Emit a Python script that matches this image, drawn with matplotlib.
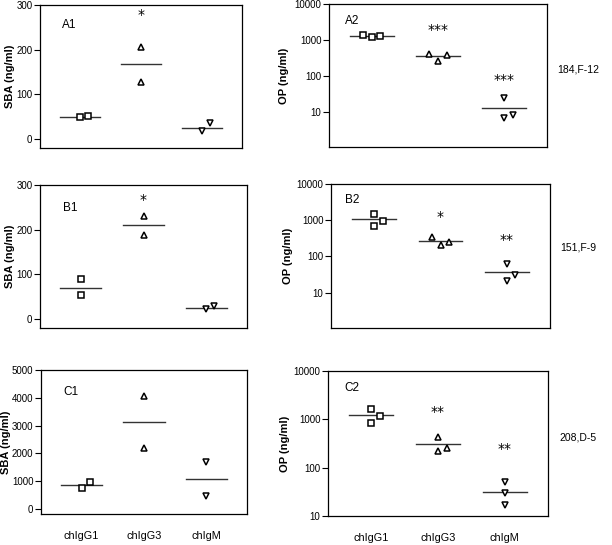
import matplotlib
matplotlib.use("Agg")
import matplotlib.pyplot as plt
from matplotlib.ticker import FixedLocator, FixedFormatter, NullLocator

W, H = 612, 545
categories = ["chIgG1", "chIgG3", "chIgM"]
markers = ["s", "^", "v"]

# ---- data ----
# A1 (SBA, linear)
a1_vals = [[49, 51], [207, 127], [17, 35]]
a1_means = [50, 168, 25]
a1_stars = ["", "*", ""]
a1_star_y = [0, 277, 0]
# A2 (OP, log)
a2_vals = [[1400, 1210, 1320], [417, 261, 372], [23.5, 6.9, 8.4]]
a2_means = [1280, 351, 12.7]
a2_stars = ["", "***", "***"]
a2_star_y = [0, 1860, 78]
# B1
b1_vals = [[90, 53], [231, 188], [22, 29]]
b1_means = [70, 210, 25]
b1_stars = ["", "*", ""]
b1_star_y = [0, 266, 0]
# B2
b2_vals = [[1500, 680, 930], [340, 210, 250], [61, 21.5, 31]]
b2_means = [1050, 265, 36]
b2_stars = ["", "*", "**"]
b2_star_y = [0, 1230, 290]
# C1
c1_vals = [[766, 982], [4065, 2205], [1690, 468]]
c1_means = [863, 3140, 1070]
c1_stars = ["", "", ""]
c1_star_y = [0, 0, 0]
# C2
c2_vals = [[1660, 850, 1175], [435, 219, 252], [50.6, 30.4, 17.2]]
c2_means = [1210, 303, 31.8]
c2_stars = ["", "**", "**"]
c2_star_y = [0, 1410, 245]

side_labels = ["184,F-12", "151,F-9", "208,D-5"]

# x offsets of points (positions, not data)
off_a1 = [[0.0, 0.13], [0.0, 0.0], [0.0, 0.13]]
off_a2 = [[-0.13, 0.0, 0.12], [-0.13, 0.0, 0.13], [0.0, 0.0, 0.13]]
off_b1 = [[0.0, 0.0], [0.0, 0.0], [0.0, 0.13]]
off_b2 = [[0.0, 0.0, 0.13], [-0.13, 0.0, 0.13], [0.0, 0.0, 0.13]]
off_c1 = [[0.0, 0.13], [0.0, 0.0], [0.0, 0.0]]
off_c2 = [[0.0, 0.0, 0.13], [0.0, 0.0, 0.13], [0.0, 0.0, 0.0]]

fig = plt.figure(figsize=(W / 100, H / 100), dpi=100)
plt.rcParams['font.family'] = ['Liberation Sans', 'DejaVu Sans']


def box(l, r, t, b):
    return [l / W, (H - b) / H, (r - l) / W, (b - t) / H]


def panel(rect, vals, means, offs, stars, stars_y, label, label_xy, log,
          ylim, yticks, ylabel, ylabel_x, show_x=False):
    ax = fig.add_axes(box(*rect))
    for i, (v, m, o) in enumerate(zip(vals, means, offs)):
        x = i + 1
        ax.plot([x + oo for oo in o], v, linestyle="none", marker=markers[i],
                markersize=3.8, markerfacecolor="white", markeredgecolor="black",
                markeredgewidth=1.1, zorder=3)
        ax.plot([x - 0.33, x + 0.33], [m, m], color="#333333", lw=1.0, zorder=2)
        if stars[i]:
            ax.text(x, stars_y[i], stars[i], ha="center", va="center",
                    fontsize=10, family="DejaVu Sans")
    if log:
        ax.set_yscale("log")
    ax.set_ylim(*ylim)
    ax.set_xlim(0.35, 3.65)
    ax.yaxis.set_major_locator(FixedLocator(yticks))
    ax.yaxis.set_major_formatter(FixedFormatter([str(t) for t in yticks]))
    ax.yaxis.set_minor_locator(NullLocator())
    ax.tick_params(axis="y", direction="out", length=4, width=0.8, labelsize=7, pad=1.5)
    if show_x:
        ax.set_xticks([1, 2, 3])
        ax.set_xticklabels(categories, fontsize=7.8)
        ax.tick_params(axis="x", length=0, pad=12)
    else:
        ax.set_xticks([])
    for s in ax.spines.values():
        s.set_linewidth(0.9)
    ax.set_ylabel(ylabel, fontsize=8, fontweight="bold")
    ax.yaxis.set_label_coords(ylabel_x, 0.5)
    ax.text(*label_xy, label, transform=ax.transAxes, ha="left", va="center", fontsize=8.5)
    return ax


panel((40, 242, 5, 148), a1_vals, a1_means, off_a1, a1_stars, a1_star_y, "A1",
      (0.109, 0.86), False, (-20, 300), [0, 100, 200, 300], "SBA (ng/ml)", -0.124)
panel((329, 547, 4, 147), a2_vals, a2_means, off_a2, a2_stars, a2_star_y, "A2",
      (0.073, 0.88), True, (1.05, 10000), [10, 100, 1000, 10000], "OP (ng/ml)", -0.183)
panel((40, 247, 185, 328), b1_vals, b1_means, off_b1, b1_stars, b1_star_y, "B1",
      (0.11, 0.84), False, (-20, 300), [0, 100, 200, 300], "SBA (ng/ml)", -0.121)
panel((331, 550, 184, 328), b2_vals, b2_means, off_b2, b2_stars, b2_star_y, "B2",
      (0.065, 0.89), True, (1.05, 10000), [10, 100, 1000, 10000], "OP (ng/ml)", -0.173)
panel((41, 247, 370, 514), c1_vals, c1_means, off_c1, c1_stars, c1_star_y, "C1",
      (0.11, 0.85), False, (-180, 5000), [0, 1000, 2000, 3000, 4000, 5000],
      "SBA (ng/ml)", -0.145, show_x=True)
panel((328, 548, 371, 516), c2_vals, c2_means, off_c2, c2_stars, c2_star_y, "C2",
      (0.075, 0.88), True, (10, 10000), [10, 100, 1000, 10000], "OP (ng/ml)",
      -0.173, show_x=True)

for lab, y in zip(side_labels, [70, 247, 437]):
    fig.text(578 / W, 1 - y / H, lab, ha="center", va="center", fontsize=7.5)

fig.savefig("out.png", dpi=100)
